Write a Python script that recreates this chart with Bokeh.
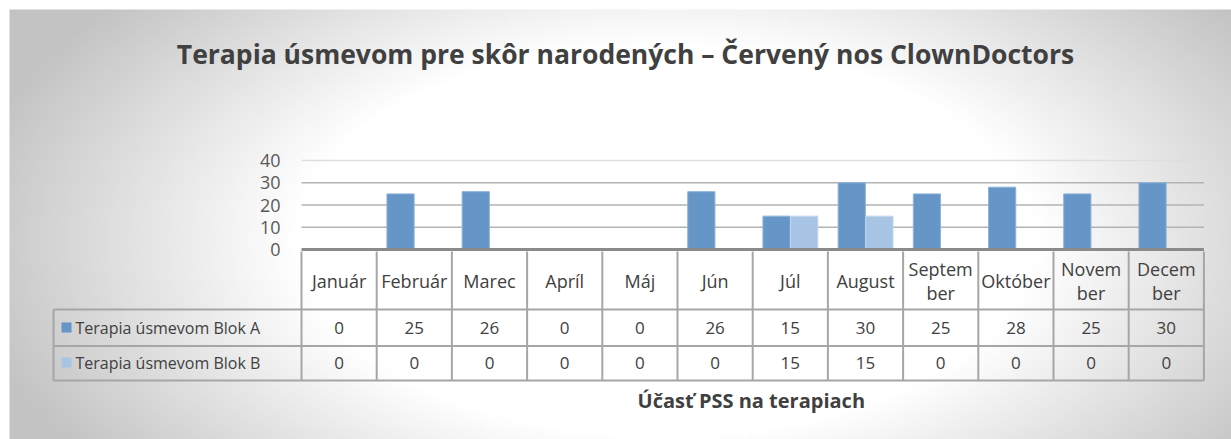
import numpy as np
from bokeh.plotting import figure
from bokeh.models import Range1d
from bokeh.core.properties import value
from bokeh.embed import file_html
from bokeh.resources import INLINE

# ---- data ----
months = ["Január", "Február", "Marec", "Apríl", "Máj", "Jún", "Júl", "August",
          "Septem\nber", "Október", "Novem\nber", "Decem\nber"]
blok_a = [0, 25, 26, 0, 0, 26, 15, 30, 25, 28, 25, 30]
blok_b = [0, 0, 0, 0, 0, 0, 15, 15, 0, 0, 0, 0]
series_names = ["Terapia úsmevom Blok A", "Terapia úsmevom Blok B"]
y_ticks = [0, 10, 20, 30, 40]
title = "Terapia úsmevom pre skôr narodených – Červený nos ClownDoctors"
x_title = "Účasť PSS  na  terapiach"

# ---- layout (page pixels -> data) ----
W, H = 1231, 439
X0, CW = 301.0, 75.2      # px of first category edge, px per category
Y0, YS = 249.0, 2.225     # px of value 0, px per unit


def xp(px):
    return (px - X0) / CW


def yp(py):
    return (Y0 - py) / YS


FONT = value("Open Sans")
TXT = "#404040"
BLUE_A = "#6596c7"
BLUE_B = "#a8c4e5"
LINE = "#a6a6a6"

p = figure(width=W, height=H,
           x_range=Range1d(xp(0), xp(W)), y_range=Range1d(yp(H), yp(0)),
           output_backend="svg", toolbar_location=None,
           x_axis_type=None, y_axis_type=None, min_border=0)
p.outline_line_color = None
p.background_fill_color = "white"
p.border_fill_color = "white"

# ---- radial gradient background (chart area) ----
L, T = 9, 9
nx, ny = 400, 140
gx = np.linspace(L, W, nx)
gy = np.linspace(H, T, ny)  # bottom row first
GX, GY = np.meshgrid(gx, gy)
d = np.sqrt(((GX - 665) / 620.0) ** 2 + ((GY - 240) / 330.0) ** 2)
t = np.clip((d - 0.6) / 0.55, 0, 1)
g = (255 - t * 60).astype(np.uint8)
img = np.empty((ny, nx), dtype=np.uint32)
view = img.view(dtype=np.uint8).reshape((ny, nx, 4))
view[:, :, 0] = g
view[:, :, 1] = g
view[:, :, 2] = g
view[:, :, 3] = 255
p.image_rgba(image=[img], x=xp(L), y=yp(H), dw=xp(W) - xp(L), dh=yp(T) - yp(H))

n = len(months)

# ---- gridlines ----
for tv in y_ticks[1:]:
    col = "#dedede" if tv == y_ticks[-1] else "#b3b3b3"
    p.segment(x0=[0], x1=[n], y0=[tv], y1=[tv], line_color=col, line_width=1.5)

# ---- y tick labels ----
p.text(x=[xp(280)] * len(y_ticks), y=y_ticks, text=[str(v) for v in y_ticks],
       text_font=FONT, text_font_size="18px", text_color="#595959",
       text_align="right", text_baseline="middle")

# ---- bars ----
ia = [i for i, v in enumerate(blok_a) if v > 0]
ib = [i for i, v in enumerate(blok_b) if v > 0]
p.vbar(x=[i + 0.5 - 0.183 for i in ia], width=0.362, bottom=0, top=[blok_a[i] for i in ia],
       fill_color=BLUE_A, line_color="#8fb3da", line_width=1)
p.vbar(x=[i + 0.5 + 0.185 for i in ib], width=0.362, bottom=0, top=[blok_b[i] for i in ib],
       fill_color=BLUE_B, line_color="#c3d6ee", line_width=1)

# ---- table lines ----
y_head_top = yp(251)
y_rowA_top = yp(309)
y_rowB_top = yp(345.5)
y_bottom = yp(380)
x_left = xp(53)
p.segment(x0=list(range(n + 1)), x1=list(range(n + 1)),
          y0=[y_head_top] * (n + 1), y1=[y_bottom] * (n + 1),
          line_color=LINE, line_width=2)
p.segment(x0=[x_left], x1=[x_left], y0=[y_rowA_top], y1=[y_bottom], line_color=LINE, line_width=2)
p.segment(x0=[x_left] * 3, x1=[n] * 3, y0=[y_rowA_top, y_rowB_top, y_bottom],
          y1=[y_rowA_top, y_rowB_top, y_bottom], line_color=LINE, line_width=2)
# axis line
p.segment(x0=[0], x1=[n], y0=[0], y1=[0], line_color="#8a8a8a", line_width=3)

# ---- month labels ----
one_x, one_t, two_x, two_t1, two_t2 = [], [], [], [], []
for i, m in enumerate(months):
    if "\n" in m:
        a, b = m.split("\n")
        two_x.append(i + 0.5)
        two_t1.append(a)
        two_t2.append(b)
    else:
        one_x.append(i + 0.5)
        one_t.append(m)
mcommon = dict(text_font=FONT, text_font_size="18px", text_color=TXT,
               text_align="center", text_baseline="middle")
p.text(x=one_x, y=[yp(280)] * len(one_x), text=one_t, **mcommon)
p.text(x=two_x, y=[yp(268)] * len(two_x), text=two_t1, **mcommon)
p.text(x=two_x, y=[yp(292)] * len(two_x), text=two_t2, **mcommon)

# ---- table values ----
common = dict(text_font=FONT, text_font_size="17px", text_color=TXT,
              text_align="center", text_baseline="middle")
cx = [i + 0.5 for i in range(n)]
p.text(x=cx, y=[yp(327)] * n, text=[str(v) for v in blok_a], **common)
p.text(x=cx, y=[yp(362)] * n, text=[str(v) for v in blok_b], **common)

# ---- legend column ----
p.scatter(x=[xp(66), xp(66)], y=[yp(327), yp(362)], marker="square", size=10,
          fill_color=[BLUE_A, BLUE_B], line_color=None)
p.text(x=[xp(75)] * 2, y=[yp(327), yp(362)], text=series_names,
       text_font=FONT, text_font_size="16px", text_color=TXT,
       text_align="left", text_baseline="middle")

# ---- titles ----
p.text(x=[xp(625)], y=[yp(53)], text=[title], text_font=FONT, text_font_size="26.5px",
       text_font_style="bold", text_color=TXT, text_align="center", text_baseline="middle")
p.text(x=[xp(756)], y=[yp(400)], text=[x_title], text_font=FONT, text_font_size="20px",
       text_font_style="bold", text_color=TXT, text_align="center", text_baseline="middle")

open("out.html", "w").write(file_html(p, INLINE))
